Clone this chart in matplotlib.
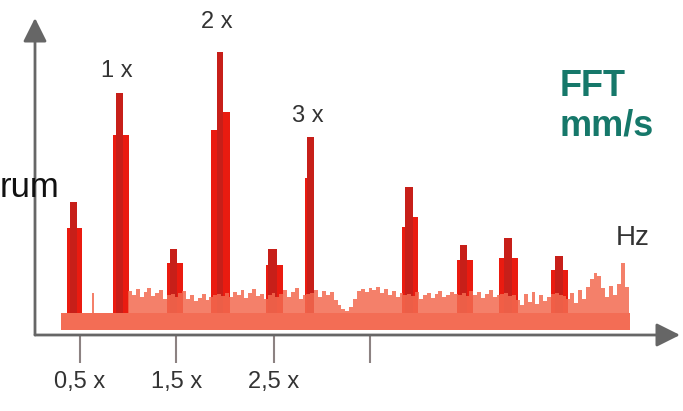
import matplotlib
matplotlib.use("Agg")
import matplotlib.pyplot as plt
import numpy as np

plt.rcParams["font.family"] = ["Liberation Sans", "DejaVu Sans"]

# x in orders of running speed, y in mm/s
# stepped peaks: wide body, optional shoulder, narrow top
body_lo = [0.371, 0.845, 1.402, 1.856, 2.423, 2.825, 3.825, 4.392, 4.825, 5.361]
body_hi = [0.526, 1.010, 1.567, 2.052, 2.598, 2.918, 3.990, 4.557, 5.021, 5.536]
body_amp = [2.04, 3.90, 1.34, 4.00, 1.30, 3.04, 2.06, 1.40, 1.44, 1.20]

shoulder_lo = [1.948, 3.856]
shoulder_hi = [2.052, 3.990]
shoulder_amp = [4.36, 2.26]

top_lo = [0.402, 0.876, 1.433, 1.918, 2.443, 2.845, 3.856, 4.423, 4.876, 5.402]
top_hi = [0.474, 0.948, 1.505, 1.979, 2.536, 2.918, 3.938, 4.495, 4.959, 5.485]
top_amp = [2.56, 4.74, 1.62, 5.56, 1.62, 3.86, 2.86, 1.70, 1.84, 1.48]

# noise floor
floor_lo, floor_hi, floor_amp = 0.309, 6.175, 0.34
noise_start, noise_step = 1.00, 0.04
noise_amp = [
    0.78, 0.70, 0.82, 0.66, 0.76, 0.84, 0.68, 0.74, 0.80, 0.62,
    0.70, 0.72, 0.66, 0.74, 0.78, 0.62, 0.70, 0.58, 0.64, 0.72,
    0.60, 0.66, 0.70, 0.72, 0.68, 0.74, 0.66, 0.76, 0.70, 0.80,
    0.64, 0.74, 0.82, 0.68, 0.72, 0.62, 0.70, 0.74, 0.66, 0.72,
    0.80, 0.66, 0.76, 0.84, 0.62, 0.70, 0.72, 0.74, 0.80, 0.66,
    0.78, 0.70, 0.76, 0.60, 0.50, 0.42, 0.38, 0.46, 0.62, 0.78,
    0.82, 0.76, 0.84, 0.80, 0.86, 0.74, 0.82, 0.70, 0.78, 0.66,
    0.74, 0.70, 0.72, 0.68, 0.76, 0.62, 0.70, 0.74, 0.64, 0.72,
    0.78, 0.66, 0.70, 0.76, 0.72, 0.70, 0.74, 0.68, 0.78, 0.70,
    0.76, 0.64, 0.72, 0.80, 0.66, 0.70, 0.72, 0.74, 0.68, 0.70,
    0.60, 0.50, 0.72, 0.56, 0.76, 0.52, 0.70, 0.58, 0.66, 0.72,
    0.74, 0.70, 0.68, 0.62, 0.74, 0.54, 0.80, 0.62, 0.86, 1.02,
    1.14, 1.08, 0.84, 0.66, 0.88, 0.70, 0.92, 1.34, 0.86,
]
spike_x, spike_amp = 0.639, 0.74

tick_pos = [0.5, 1.5, 2.5, 3.5]
tick_labels = ["0,5 x", "1,5 x", "2,5 x", ""]

harmonic_idx = [1, 3, 5]
harmonic_labels = ["1 x", "2 x", "3 x"]

W, H = 683, 411
fig = plt.figure(figsize=(W / 100, H / 100), dpi=100)
ax = fig.add_axes([35 / W, (H - 335) / H, (680 - 35) / W, (335 - 18) / H])
ax.set_xlim(4 / 97, 649 / 97)
ax.set_ylim(-0.1, 6.24)
for s in ax.spines.values():
    s.set_visible(False)

red_body = "#ea1b10"
red_top = "#c71f19"
salmon = "#f36a50"


def steps(lo, hi, amp, color, z):
    lo = np.asarray(lo)
    hi = np.asarray(hi)
    ax.bar(lo, amp, width=hi - lo, align="edge", color=color,
           linewidth=0, zorder=z)


steps(body_lo, body_hi, body_amp, red_body, 2)
steps(shoulder_lo, shoulder_hi, shoulder_amp, red_body, 2)
steps(top_lo, top_hi, top_amp, red_top, 2)

# noise as one stepped polygon so neighbouring bins have no seams
edges = noise_start + noise_step * np.arange(len(noise_amp) + 1)
ax.fill_between(edges, 0, np.append(noise_amp, noise_amp[-1]), step="post",
                color=salmon, alpha=0.85, linewidth=0, zorder=3)
ax.bar([spike_x], [spike_amp], width=0.02, color=salmon, alpha=0.85,
       linewidth=0, zorder=3)
ax.bar([floor_lo], [floor_amp], width=floor_hi - floor_lo, align="edge",
       color="#f36d55", linewidth=0, zorder=4)

# axes drawn as arrows
axis_col = "#666666"
arrow = dict(arrowstyle="-|>,head_length=0.9,head_width=0.45",
             color=axis_col, lw=2.0, mutation_scale=16, shrinkA=0, shrinkB=0)
ax.annotate("", xy=(1, 0), xytext=(0, 0), xycoords="axes fraction",
            arrowprops=arrow, zorder=5)
ax.annotate("", xy=(0, 1), xytext=(0, 0), xycoords="axes fraction",
            arrowprops=arrow, zorder=5)

ax.set_yticks([])
ax.set_xticks(tick_pos)
ax.set_xticklabels(tick_labels)
ax.tick_params(axis="x", length=20, width=1.5, color="#8c8282",
               labelsize=17, labelcolor="#333333", pad=6)

label_lift = [8, 14, 7]
for i, txt, lift in zip(harmonic_idx, harmonic_labels, label_lift):
    xc = (top_lo[i] + top_hi[i]) / 2
    ax.annotate(txt, xy=(xc, top_amp[i]), xytext=(-2, lift),
                textcoords="offset points", ha="center", va="bottom",
                fontsize=17, color="#333333")

fig.text(633 / W, 1 - 238 / H, "Hz", ha="center", va="center",
         fontsize=20, color="#333333")
fig.text(560 / W, 1 - 96 / H, "FFT", ha="left", va="baseline",
         fontsize=26, fontweight="bold", color="#16786a")
fig.text(560 / W, 1 - 135 / H, "mm/s", ha="left", va="baseline",
         fontsize=26, fontweight="bold", color="#16786a")
fig.text(0, 1 - 197 / H, "rum", ha="left", va="baseline",
         fontsize=25, color="#111111")

fig.savefig("out.png", dpi=100)
